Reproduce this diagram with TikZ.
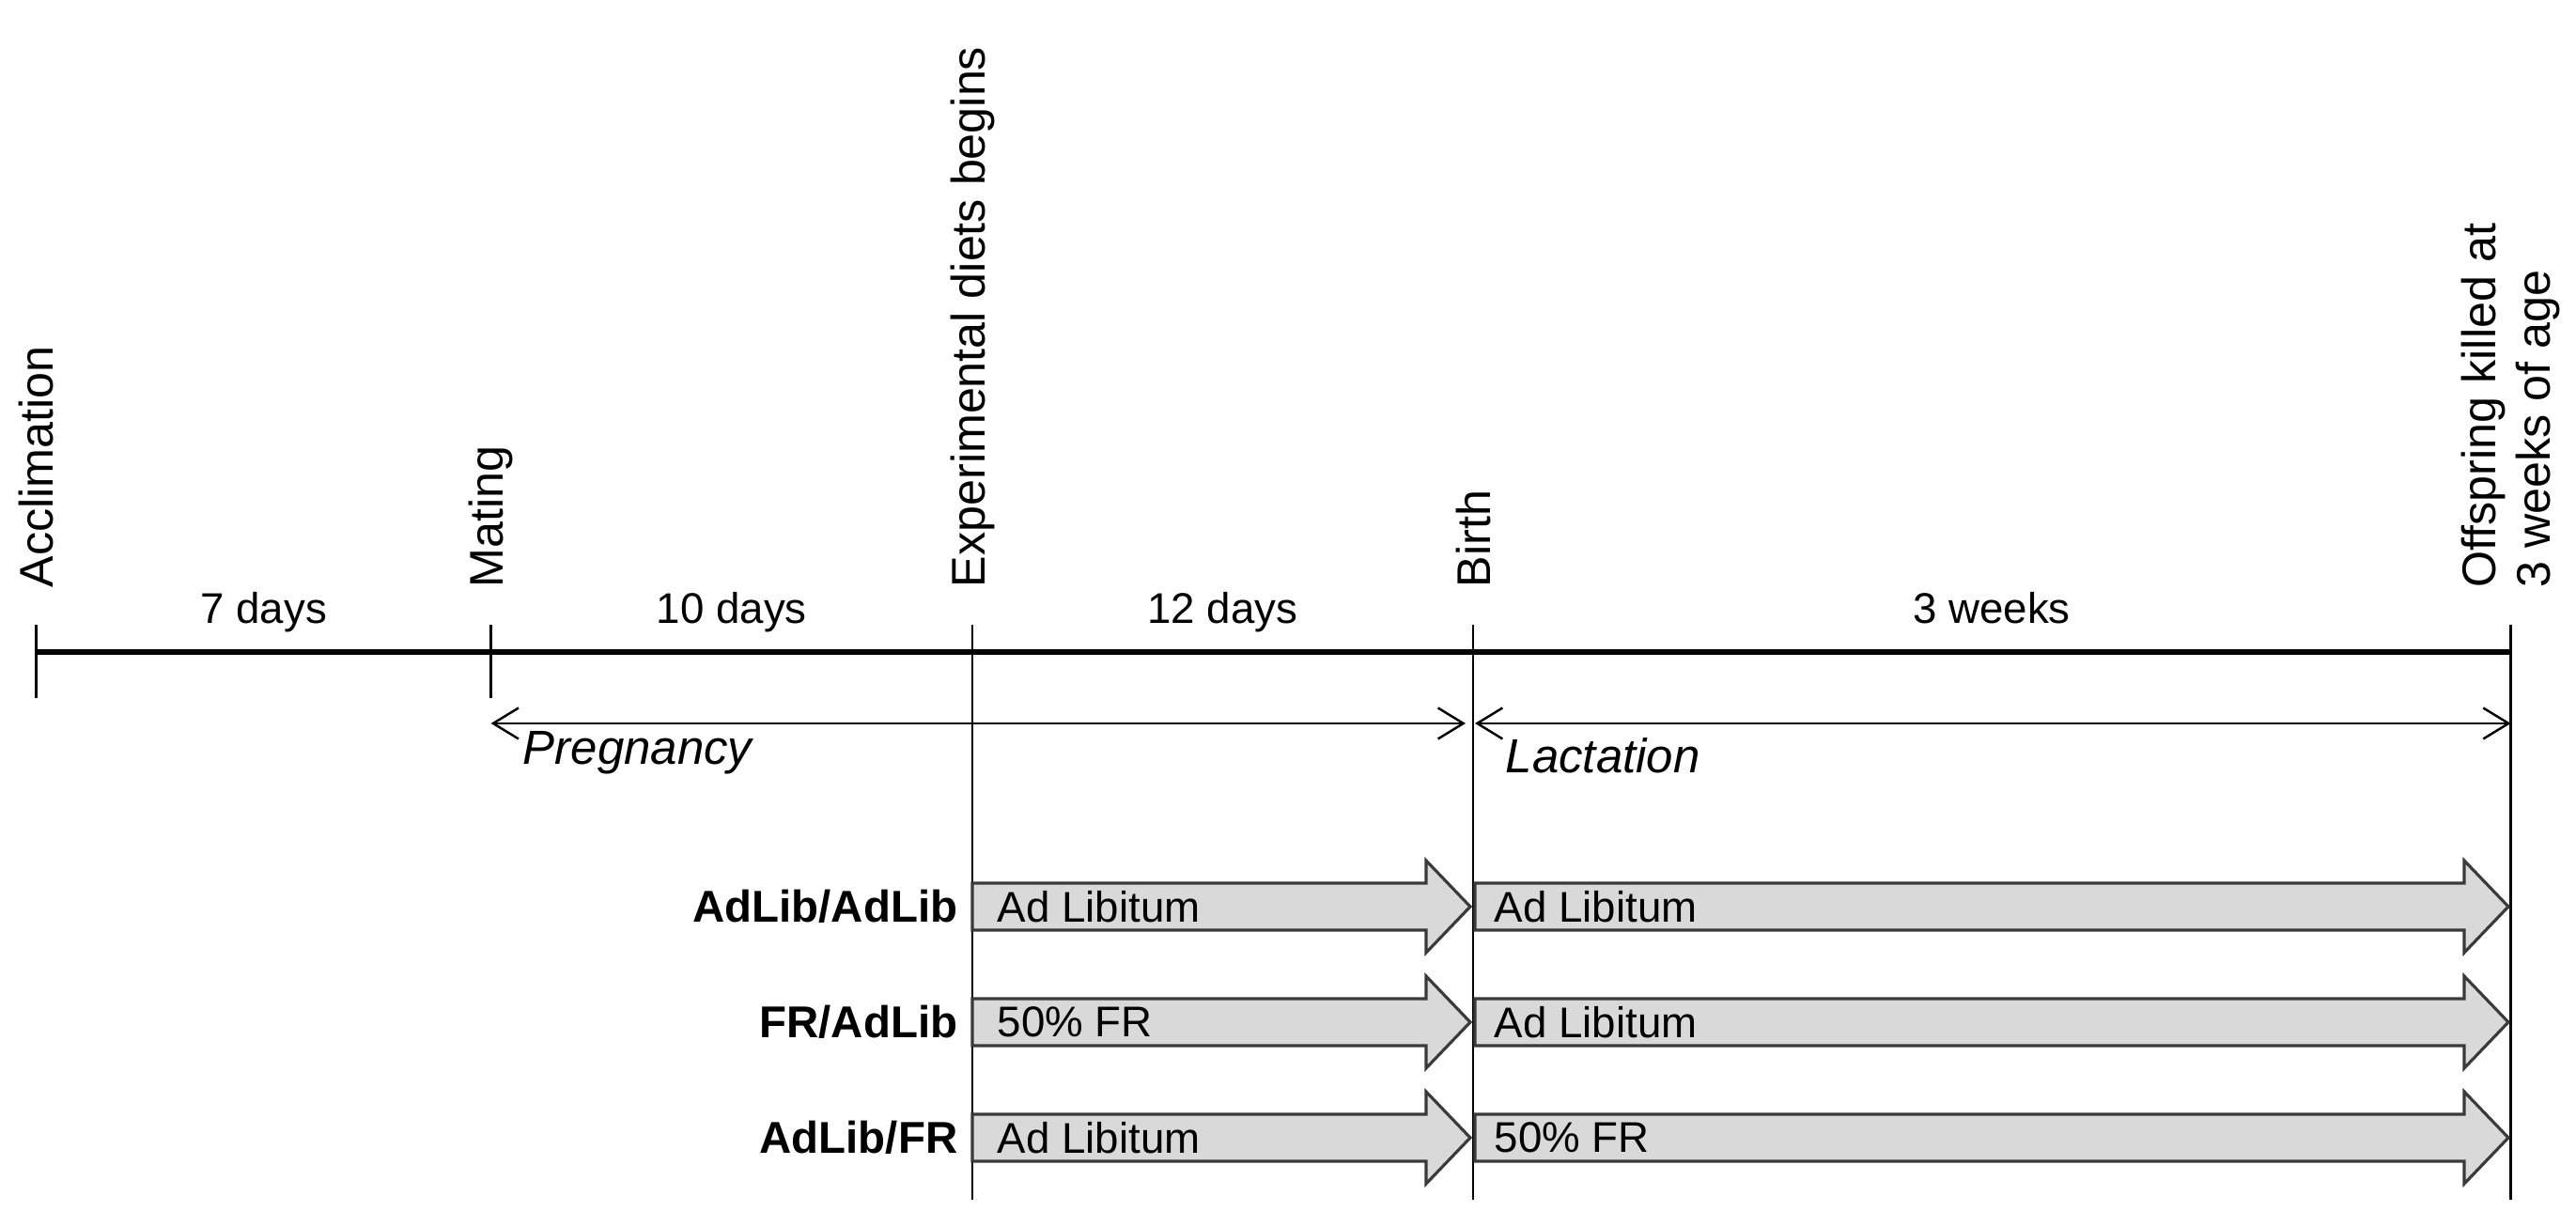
\documentclass[tikz,border=0pt]{standalone}
\usepackage{fontspec}
\setmainfont{Liberation Sans}
\usepackage{tikz}
\usetikzlibrary{arrows.meta}

\definecolor{arrowfill}{HTML}{D9D9D9}
\definecolor{arrowline}{HTML}{3A3A3A}

\begin{document}
\begin{tikzpicture}[
	thinline/.style={line width=0.7pt},
	timeline/.style={line width=1.6pt},
	vlabel/.style={rotate=90, anchor=west, inner sep=0pt, align=left, font=\fontsize{14.3}{16.5}\selectfont},
	span/.style={anchor=base, inner sep=0pt, font=\fontsize{13}{15}\selectfont},
	phase/.style={anchor=west, inner sep=0pt, font=\fontsize{14.5}{17}\selectfont\itshape},
	group/.style={anchor=east, inner sep=0pt, font=\fontsize{13.5}{16}\selectfont\bfseries},
	diet/.style={anchor=west, inner sep=0pt, font=\fontsize{13}{15}\selectfont},
	blockarrow/.style={fill=arrowfill, draw=arrowline, line width=0.9pt, line join=miter},
	phasearrow/.style={thinline, {Straight Barb[length=0.27cm, width=0.33cm]}-{Straight Barb[length=0.27cm, width=0.33cm]}}
]
\useasboundingbox (0,0) rectangle (27.42,13.06);

% time points on the line
	\coordinate (acclim) at (0.386,6.12);
	\coordinate (mating) at (5.226,6.12);
	\coordinate (diets) at (10.35,6.12);
	\coordinate (birth) at (15.68,6.12);
	\coordinate (killed) at (26.726,6.12);

% draw time line and ticks
	\draw[timeline] (acclim) -- (killed);
	\draw[thinline] (0.386,6.41) -- (0.386,5.63);
	\draw[thinline] (5.226,6.41) -- (5.226,5.63);
	\draw[thinline] (10.35,6.41) -- (10.35,0.29);
	\draw[thinline] (15.68,6.41) -- (15.68,0.29);
	\draw[thinline] (26.726,6.41) -- (26.726,0.29);

% event labels
	\node[vlabel] (acclimlabel) at (0.386,6.80) {Acclimation};
	\node[vlabel] (matinglabel) at (5.226,6.80) {Mating};
	\node[vlabel] (dietslabel) at (10.35,6.80) {Experimental diets begins};
	\node[vlabel] (birthlabel) at (15.68,6.80) {Birth};
	\node[vlabel] (killedlabel) at (26.726,6.80) {Offspring killed at\\3 weeks of age};

% durations
	\node[span] (days7) at (2.806,6.42) {7 days};
	\node[span] (days10) at (7.788,6.42) {10 days};
	\node[span] (days12) at (13.015,6.42) {12 days};
	\node[span] (weeks3) at (21.2,6.42) {3 weeks};

% pregnancy and lactation
	\coordinate (pregstart) at (5.226,5.36);
	\coordinate (pregend) at (15.60,5.36);
	\coordinate (lactstart) at (15.70,5.36);
	\coordinate (lactend) at (26.726,5.36);
	\draw[phasearrow] (pregstart) -- (pregend);
	\draw[phasearrow] (lactstart) -- (lactend);
	\node[phase] (pregnancy) at (5.56,5.05) {Pregnancy};
	\node[phase] (lactation) at (16.02,5.02) {Lactation};

% diet arrows, one row per group
	\draw[blockarrow] (10.35,3.16) -- ++(4.83,0) -- ++(0,-0.24) -- ++(0.47,0.49) -- ++(-0.47,0.49) -- ++(0,-0.24) -- ++(-4.83,0) -- cycle;
	\draw[blockarrow] (15.70,3.16) -- ++(10.53,0) -- ++(0,-0.24) -- ++(0.47,0.49) -- ++(-0.47,0.49) -- ++(0,-0.24) -- ++(-10.53,0) -- cycle;

	\draw[blockarrow] (10.35,1.93) -- ++(4.83,0) -- ++(0,-0.24) -- ++(0.47,0.49) -- ++(-0.47,0.49) -- ++(0,-0.24) -- ++(-4.83,0) -- cycle;
	\draw[blockarrow] (15.70,1.93) -- ++(10.53,0) -- ++(0,-0.24) -- ++(0.47,0.49) -- ++(-0.47,0.49) -- ++(0,-0.24) -- ++(-10.53,0) -- cycle;

	\draw[blockarrow] (10.35,0.70) -- ++(4.83,0) -- ++(0,-0.24) -- ++(0.47,0.49) -- ++(-0.47,0.49) -- ++(0,-0.24) -- ++(-4.83,0) -- cycle;
	\draw[blockarrow] (15.70,0.70) -- ++(10.53,0) -- ++(0,-0.24) -- ++(0.47,0.49) -- ++(-0.47,0.49) -- ++(0,-0.24) -- ++(-10.53,0) -- cycle;

% group names and diets
	\node[group] (adad) at (10.2,3.41) {AdLib/AdLib};
	\node[group] (frad) at (10.2,2.18) {FR/AdLib};
	\node[group] (adfr) at (10.2,0.95) {AdLib/FR};

	\node[diet] (adad1) at (10.61,3.41) {Ad Libitum};
	\node[diet] (adad2) at (15.9,3.41) {Ad Libitum};
	\node[diet] (frad1) at (10.61,2.18) {50\% FR};
	\node[diet] (frad2) at (15.9,2.18) {Ad Libitum};
	\node[diet] (adfr1) at (10.61,0.95) {Ad Libitum};
	\node[diet] (adfr2) at (15.9,0.95) {50\% FR};

\end{tikzpicture}
\end{document}
